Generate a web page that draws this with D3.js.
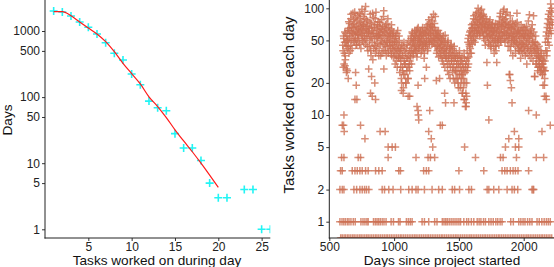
<!DOCTYPE html>
<html>
<head>
<meta charset="utf-8">
<script src="https://d3js.org/d3.v7.min.js"></script>
<style>
  body { margin: 0; background: #fff; }
  svg { display: block; font-family: "Liberation Sans", Arial, Helvetica, sans-serif; }
  .tick text { fill: #222; font-size: 12px; }
  .tick line { stroke: #333; }
</style>
</head>
<body>
<svg id="chart" width="554" height="267"></svg>
<script>
// ---- left panel: how many days had N tasks worked on ----
var taskCounts = [1, 2, 3, 4, 5, 6, 7, 8, 9, 10, 11, 12, 13, 14, 15, 16, 17, 18, 19, 20, 21, 23, 24, 25, 26];
var dayCounts  = [2010, 1940, 1690, 1370, 1140, 900, 665, 460, 364, 224, 154, 87, 69, 62, 28, 17, 17, 11, 5, 3, 3, 4, 4, 1, 1];
// fitted curve, x = 1..20
var fitX = [1, 2, 3, 4, 5, 6, 7, 8, 9, 10, 11, 12, 13, 14, 15, 16, 17, 18, 19, 20];
var fitY = [1960, 1960, 1700, 1370, 1110, 900, 690, 486, 324, 226, 158, 101, 72, 49, 32, 21.7, 14.9, 10, 6.6, 4.3];
var leftXTicks = [5, 10, 15, 20, 25];
var leftYTicks = [1, 5, 10, 50, 100, 500, 1000];

// ---- right panel: tasks worked on each day since project start ----
// main cloud, two interleaved runs, one value every 4 days
var cloudStartA = 604, cloudStartB = 606, cloudStep = 4;
var cloudValuesA = [
  45, 28, 52, 38, 60, 33, 48, 25, 55, 42,
  50, 65, 38, 72, 55, 45, 88, 60, 42, 70,
  58, 78, 48, 92, 62, 52, 68, 45, 85, 57,
  66, 50, 90, 60, 74, 42, 64, 98, 55, 70,
  48, 62, 80, 52, 104, 68, 58, 44, 76, 60,
  27, 65, 50, 88, 40, 72, 55, 62, 33, 82,
  58, 45, 70, 38, 92, 52, 64, 47, 75, 56,
  42, 68, 55, 36, 60, 78, 48, 62, 40, 95,
  52, 66, 44, 58, 36, 72, 48, 80, 55, 40,
  62, 45, 54, 38, 70, 48, 42, 58, 35, 52,
  44, 30, 55, 38, 48, 28, 62, 35, 42, 50,
  25, 40, 32, 22, 45, 28, 36, 18, 48, 30,
  24, 38, 20, 42, 28, 34, 22, 50, 30, 26,
  45, 35, 55, 40, 60, 48, 38, 52, 44, 62,
  50, 40, 58, 35, 64, 45, 52, 42, 56, 48,
  60, 38, 52, 46, 66, 42, 55, 34, 48, 58,
  44, 62, 50, 70, 42, 56, 78, 48, 64, 52,
  58, 82, 46, 66, 55, 88, 50, 72, 44, 62,
  52, 38, 60, 45, 55, 35, 48, 42, 58, 36,
  50, 40, 32, 46, 55, 36, 42, 28, 48, 38,
  34, 44, 26, 50, 36, 30, 42, 22, 38, 46,
  32, 40, 25, 36, 28, 44, 20, 34, 26, 38,
  30, 22, 36, 18, 28, 40, 24, 32, 20, 26,
  35, 16, 28, 22, 38, 14, 25, 30, 12, 20,
  40, 28, 52, 35, 46, 60, 42, 55, 38, 65,
  58, 72, 50, 85, 62, 48, 78, 66, 92, 56,
  70, 100, 62, 82, 55, 76, 95, 66, 85, 72,
  60, 88, 52, 74, 66, 45, 80, 58, 31, 68,
  54, 70, 46, 62, 78, 50, 42, 65, 56, 72,
  48, 60, 38, 66, 52, 44, 58, 31, 70, 50,
  62, 45, 76, 55, 90, 48, 68, 58, 82, 52,
  72, 98, 60, 48, 80, 66, 55, 92, 62, 44,
  70, 24, 56, 85, 40, 64, 50, 76, 36, 58,
  46, 68, 54, 38, 72, 48, 90, 60, 42, 56,
  64, 40, 52, 34, 70, 46, 58, 38, 62, 50,
  44, 66, 36, 56, 48, 30, 60, 42, 76, 52,
  87, 40, 58, 34, 64, 46, 54, 32, 85, 48,
  23, 42, 55, 36, 30, 46, 26, 38, 32, 28,
  35, 25, 40, 28, 33, 24, 30, 27, 36, 19,
  32, 48, 15, 60, 40, 72, 52, 88, 45, 65,
  78, 110, 58, 92, 70
];
var cloudValuesB = [
  40, 55, 30, 48, 36, 58, 44, 27, 50, 62,
  44, 75, 52, 62, 40, 80, 66, 50, 58, 90,
  66, 50, 72, 56, 82, 45, 60, 76, 52, 64,
  58, 80, 46, 68, 88, 56, 72, 50, 62, 84,
  70, 55, 94, 46, 64, 78, 52, 68, 40, 58,
  60, 44, 74, 54, 36, 66, 48, 90, 58, 42,
  66, 52, 80, 44, 58, 40, 70, 54, 62, 36,
  56, 74, 46, 64, 50, 38, 68, 56, 84, 46,
  60, 40, 70, 50, 64, 44, 56, 38, 66, 48,
  50, 58, 42, 64, 36, 56, 46, 60, 40, 48,
  36, 52, 42, 32, 58, 40, 46, 34, 55, 38,
  34, 28, 42, 20, 36, 26, 44, 24, 32, 40,
  30, 20, 34, 26, 46, 22, 36, 28, 40, 32,
  38, 52, 30, 46, 58, 36, 50, 42, 56, 40,
  55, 44, 62, 38, 50, 66, 42, 54, 46, 60,
  48, 56, 40, 62, 50, 44, 58, 38, 64, 46,
  56, 48, 66, 40, 60, 52, 72, 46, 58, 68,
  70, 50, 62, 76, 48, 58, 66, 52, 84, 56,
  44, 56, 40, 50, 62, 42, 54, 38, 46, 52,
  44, 34, 52, 40, 30, 48, 38, 56, 34, 42,
  40, 30, 48, 34, 24, 42, 36, 28, 44, 32,
  36, 28, 42, 22, 32, 38, 26, 34, 22, 30,
  26, 34, 20, 30, 24, 36, 18, 28, 32, 22,
  24, 30, 18, 26, 34, 20, 28, 16, 32, 26,
  34, 48, 30, 56, 44, 38, 62, 50, 70, 46,
  66, 54, 80, 60, 70, 52, 88, 62, 74, 58,
  78, 64, 90, 70, 58, 84, 68, 98, 60, 80,
  72, 56, 84, 64, 50, 70, 62, 76, 54, 66,
  60, 48, 74, 56, 66, 44, 58, 70, 52, 62,
  56, 44, 64, 50, 72, 40, 60, 48, 66, 54,
  52, 70, 60, 84, 50, 64, 74, 56, 68, 94,
  60, 78, 52, 70, 88, 58, 74, 50, 66, 56,
  52, 66, 44, 72, 58, 48, 64, 54, 70, 50,
  60, 50, 66, 44, 58, 52, 74, 46, 62, 40,
  48, 58, 44, 62, 40, 54, 46, 66, 42, 56,
  54, 40, 62, 46, 68, 38, 52, 44, 58, 36,
  50, 62, 42, 56, 38, 70, 48, 40, 60, 44,
  38, 48, 30, 42, 34, 40, 28, 36, 44, 30,
  28, 34, 26, 38, 30, 24, 32, 28, 26, 22,
  26, 40, 55, 36, 66, 48, 80, 58, 70, 95,
  62, 84, 100, 74
];
// scattered lower days [day, tasks]
var scatterPoints = [
  [621, 29], [639, 26], [646, 22], [703, 25], [708, 19], [698, 14], [713, 14], [818, 16], [831, 15],
  [857, 14], [851, 20], [826, 23], [921, 27], [613, 10], [600, 8], [610, 8], [741, 8], [615, 7],
  [892, 7], [931, 7], [775, 6], [954, 5], [985, 5], [1010, 5], [1057, 17], [1070, 16], [1108, 15],
  [1120, 15], [1185, 19], [1236, 22], [1249, 28], [1326, 21], [1351, 22], [1185, 11], [1187, 10],
  [1190, 9], [1275, 11], [1177, 12], [1267, 7], [1287, 6], [1298, 5], [1356, 8], [1372, 8],
  [1390, 16], [1397, 13], [1462, 13], [1525, 16], [1540, 14], [1550, 12], [1556, 13], [1560, 15],
  [1544, 5], [1720, 19], [1731, 9], [1893, 24], [1905, 18], [1897, 21], [1910, 13], [1885, 6],
  [1928, 7], [1962, 6], [1859, 5], [1936, 5], [1962, 5], [2038, 11], [2097, 10], [2085, 23],
  [2149, 19], [2160, 15], [2175, 14], [2141, 7], [2205, 8]
];
var daysWithFour  = [595, 613, 723, 741, 954, 1169, 1262, 1280, 1313, 1628, 1821, 1841, 1944, 2097, 2154];
var daysWithThree = [587, 600, 677, 698, 716, 736, 754, 780, 800, 857, 882, 908, 1036, 1049, 1228, 1249,
                     1267, 1500, 1692, 1833, 1854, 1872, 1897, 1918, 1936, 1956, 2038];
var daysWithTwo   = [582, 600, 613, 690, 711, 736, 754, 772, 787, 805, 908, 926, 959, 992, 1051, 1113,
                     1139, 1169, 1185, 1234, 1293, 1344, 1372, 1449, 1467, 1505, 1577, 1597, 1718, 1731,
                     1769, 1808, 1872, 1910, 1928, 1954, 2064, 2072, 2077];
var daysWithOne   = [582, 598, 612, 625, 640, 652, 667, 685, 700, 744, 760, 775, 790, 800, 841, 855, 868,
                     880, 893, 908, 922, 938, 977, 995, 1034, 1046, 1095, 1110, 1125, 1139, 1216, 1234,
                     1267, 1313, 1331, 1372, 1385, 1398, 1410, 1425, 1440, 1455, 1470, 1485, 1500, 1513,
                     1538, 1560, 1575, 1596, 1615, 1641, 1656, 1670, 1690, 1705, 1731, 1748, 1765, 1785,
                     1800, 1818, 1833, 1900, 1920, 1962, 1978, 1995, 2010, 2030, 2047, 2064, 2103, 2120,
                     2140, 2158, 2175, 2190, 2205];
// days with nothing worked on (log of 0 -> drawn on the panel edge)
var daysWithZero  = [588, 600, 614, 626, 640, 652, 666, 680, 692, 706, 720, 734, 746, 760, 774, 788, 800,
                     814, 828, 842, 856, 868, 882, 896, 910, 924, 938, 950, 964, 978, 992, 1006, 1020,
                     1034, 1048, 1060, 1074, 1088, 1102, 1116, 1130, 1144, 1158, 1170, 1184, 1198, 1212,
                     1226, 1240, 1254, 1266, 1280, 1294, 1308, 1322, 1336, 1350, 1364, 1376, 1390, 1404,
                     1418, 1432, 1446, 1460, 1474, 1486, 1500, 1514, 1528, 1542, 1556, 1570, 1584, 1596,
                     1610, 1624, 1638, 1652, 1666, 1680, 1694, 1706, 1720, 1734, 1748, 1762, 1776, 1790,
                     1804, 1816, 1830, 1844, 1858, 1872, 1886, 1900, 1914, 1926, 1940, 1954, 1968, 1982,
                     1996, 2010, 2024, 2036, 2050, 2064, 2078, 2092, 2106, 2120, 2134, 2146, 2160, 2174,
                     2188, 2202, 2216];
var rightXTicks = [500, 1000, 1500, 2000];
var rightYTicks = [1, 2, 5, 10, 20, 50, 100];

var svg = d3.select("#chart");
var plus = function(s) { return "M" + (-s) + ",0H" + s + "M0," + (-s) + "V" + s; };

// ===================== left panel =====================
var L = { left: 45, right: 270.3, top: 0, bottom: 238 };
var xL = d3.scaleLinear().domain([0, 26]).range([L.left, L.right]);
var yL = d3.scaleLog().domain([1, 1000]).range([229.3, 31]);

svg.append("clipPath").attr("id", "clipL").append("rect")
  .attr("x", L.left).attr("y", L.top).attr("width", L.right - L.left).attr("height", L.bottom - L.top);

var gL = svg.append("g").attr("clip-path", "url(#clipL)");
gL.selectAll("path.pt")
  .data(d3.zip(taskCounts, dayCounts))
  .enter().append("path")
    .attr("class", "pt")
    .attr("transform", function(d) { return "translate(" + xL(d[0]) + "," + yL(d[1]) + ")"; })
    .attr("d", plus(4))
    .attr("stroke", "#22f4f4")
    .attr("stroke-width", 1.6)
    .attr("fill", "none");

gL.append("path")
  .datum(d3.zip(fitX, fitY))
  .attr("fill", "none")
  .attr("stroke", "#ff1a1a")
  .attr("stroke-width", 1.2)
  .attr("d", d3.line().curve(d3.curveMonotoneX)
    .x(function(d) { return xL(d[0]); }).y(function(d) { return yL(d[1]); }));

svg.append("g")
  .attr("transform", "translate(0," + L.bottom + ")")
  .call(d3.axisBottom(xL).tickValues(leftXTicks).tickSize(3).tickPadding(1).tickFormat(d3.format("d")))
  .call(function(g) { g.select(".domain").remove(); });
svg.append("g")
  .attr("transform", "translate(" + L.left + ",0)")
  .call(d3.axisLeft(yL).tickValues(leftYTicks).tickSize(3).tickPadding(2).tickFormat(d3.format("d")))
  .call(function(g) { g.select(".domain").remove(); });

svg.append("line").attr("x1", L.left).attr("x2", L.left).attr("y1", L.top).attr("y2", L.bottom + 0.5)
  .attr("stroke", "#222").attr("stroke-width", 1);
svg.append("line").attr("x1", L.left - 0.5).attr("x2", L.right).attr("y1", L.bottom).attr("y2", L.bottom)
  .attr("stroke", "#222").attr("stroke-width", 1);

svg.append("text").attr("x", 157).attr("y", 265).attr("text-anchor", "middle")
  .attr("font-size", 13.6).attr("fill", "#111").text("Tasks worked on during day");
svg.append("text").attr("transform", "translate(11.5,120) rotate(-90)").attr("text-anchor", "middle")
  .attr("font-size", 13.6).attr("fill", "#111").text("Days");

// ===================== right panel =====================
var R = { left: 329.3, right: 554, top: 0, bottom: 238 };
var xR = d3.scaleLinear().domain([500, 2000]).range([329.3, 523.7]);
var yR = d3.scaleLog().domain([1, 100]).range([221.7, 8.3]);

var pointsR = [];
cloudValuesA.forEach(function(v, i) { pointsR.push([cloudStartA + i * cloudStep, v]); });
cloudValuesB.forEach(function(v, i) { pointsR.push([cloudStartB + i * cloudStep, v]); });
scatterPoints.forEach(function(p) { pointsR.push(p); });
daysWithFour.forEach(function(d) { pointsR.push([d, 4]); });
daysWithThree.forEach(function(d) { pointsR.push([d, 3]); });
daysWithTwo.forEach(function(d) { pointsR.push([d, 2]); });
daysWithOne.forEach(function(d) { pointsR.push([d, 1]); });
daysWithZero.forEach(function(d) { pointsR.push([d, 0]); });

svg.append("clipPath").attr("id", "clipR").append("rect")
  .attr("x", R.left).attr("y", R.top).attr("width", R.right - R.left).attr("height", R.bottom - R.top);

var gR = svg.append("g").attr("clip-path", "url(#clipR)");
gR.selectAll("path.pt")
  .data(pointsR)
  .enter().append("path")
    .attr("class", "pt")
    .attr("transform", function(d) {
      var y = d[1] > 0 ? yR(d[1]) : R.bottom;
      return "translate(" + xR(d[0]) + "," + y + ")";
    })
    .attr("d", plus(3.8))
    .attr("stroke", "#cd7054")
    .attr("stroke-opacity", 0.8)
    .attr("stroke-width", 1.5)
    .attr("fill", "none");

svg.append("g")
  .attr("transform", "translate(0," + R.bottom + ")")
  .call(d3.axisBottom(xR).tickValues(rightXTicks).tickSize(3).tickPadding(1).tickFormat(d3.format("d")))
  .call(function(g) { g.select(".domain").remove(); });
svg.append("g")
  .attr("transform", "translate(" + R.left + ",0)")
  .call(d3.axisLeft(yR).tickValues(rightYTicks).tickSize(3).tickPadding(2).tickFormat(d3.format("d")))
  .call(function(g) { g.select(".domain").remove(); });

svg.append("line").attr("x1", R.left).attr("x2", R.left).attr("y1", R.top).attr("y2", R.bottom + 0.5)
  .attr("stroke", "#222").attr("stroke-width", 1);
svg.append("line").attr("x1", R.left - 0.5).attr("x2", R.right).attr("y1", R.bottom).attr("y2", R.bottom)
  .attr("stroke", "#222").attr("stroke-width", 1);

svg.append("text").attr("x", 442).attr("y", 265).attr("text-anchor", "middle")
  .attr("font-size", 13.6).attr("fill", "#111").text("Days since project started");
svg.append("text").attr("transform", "translate(294,105) rotate(-90)").attr("text-anchor", "middle")
  .attr("font-size", 15).attr("fill", "#111").text("Tasks worked on each day");
</script>
</body>
</html>
